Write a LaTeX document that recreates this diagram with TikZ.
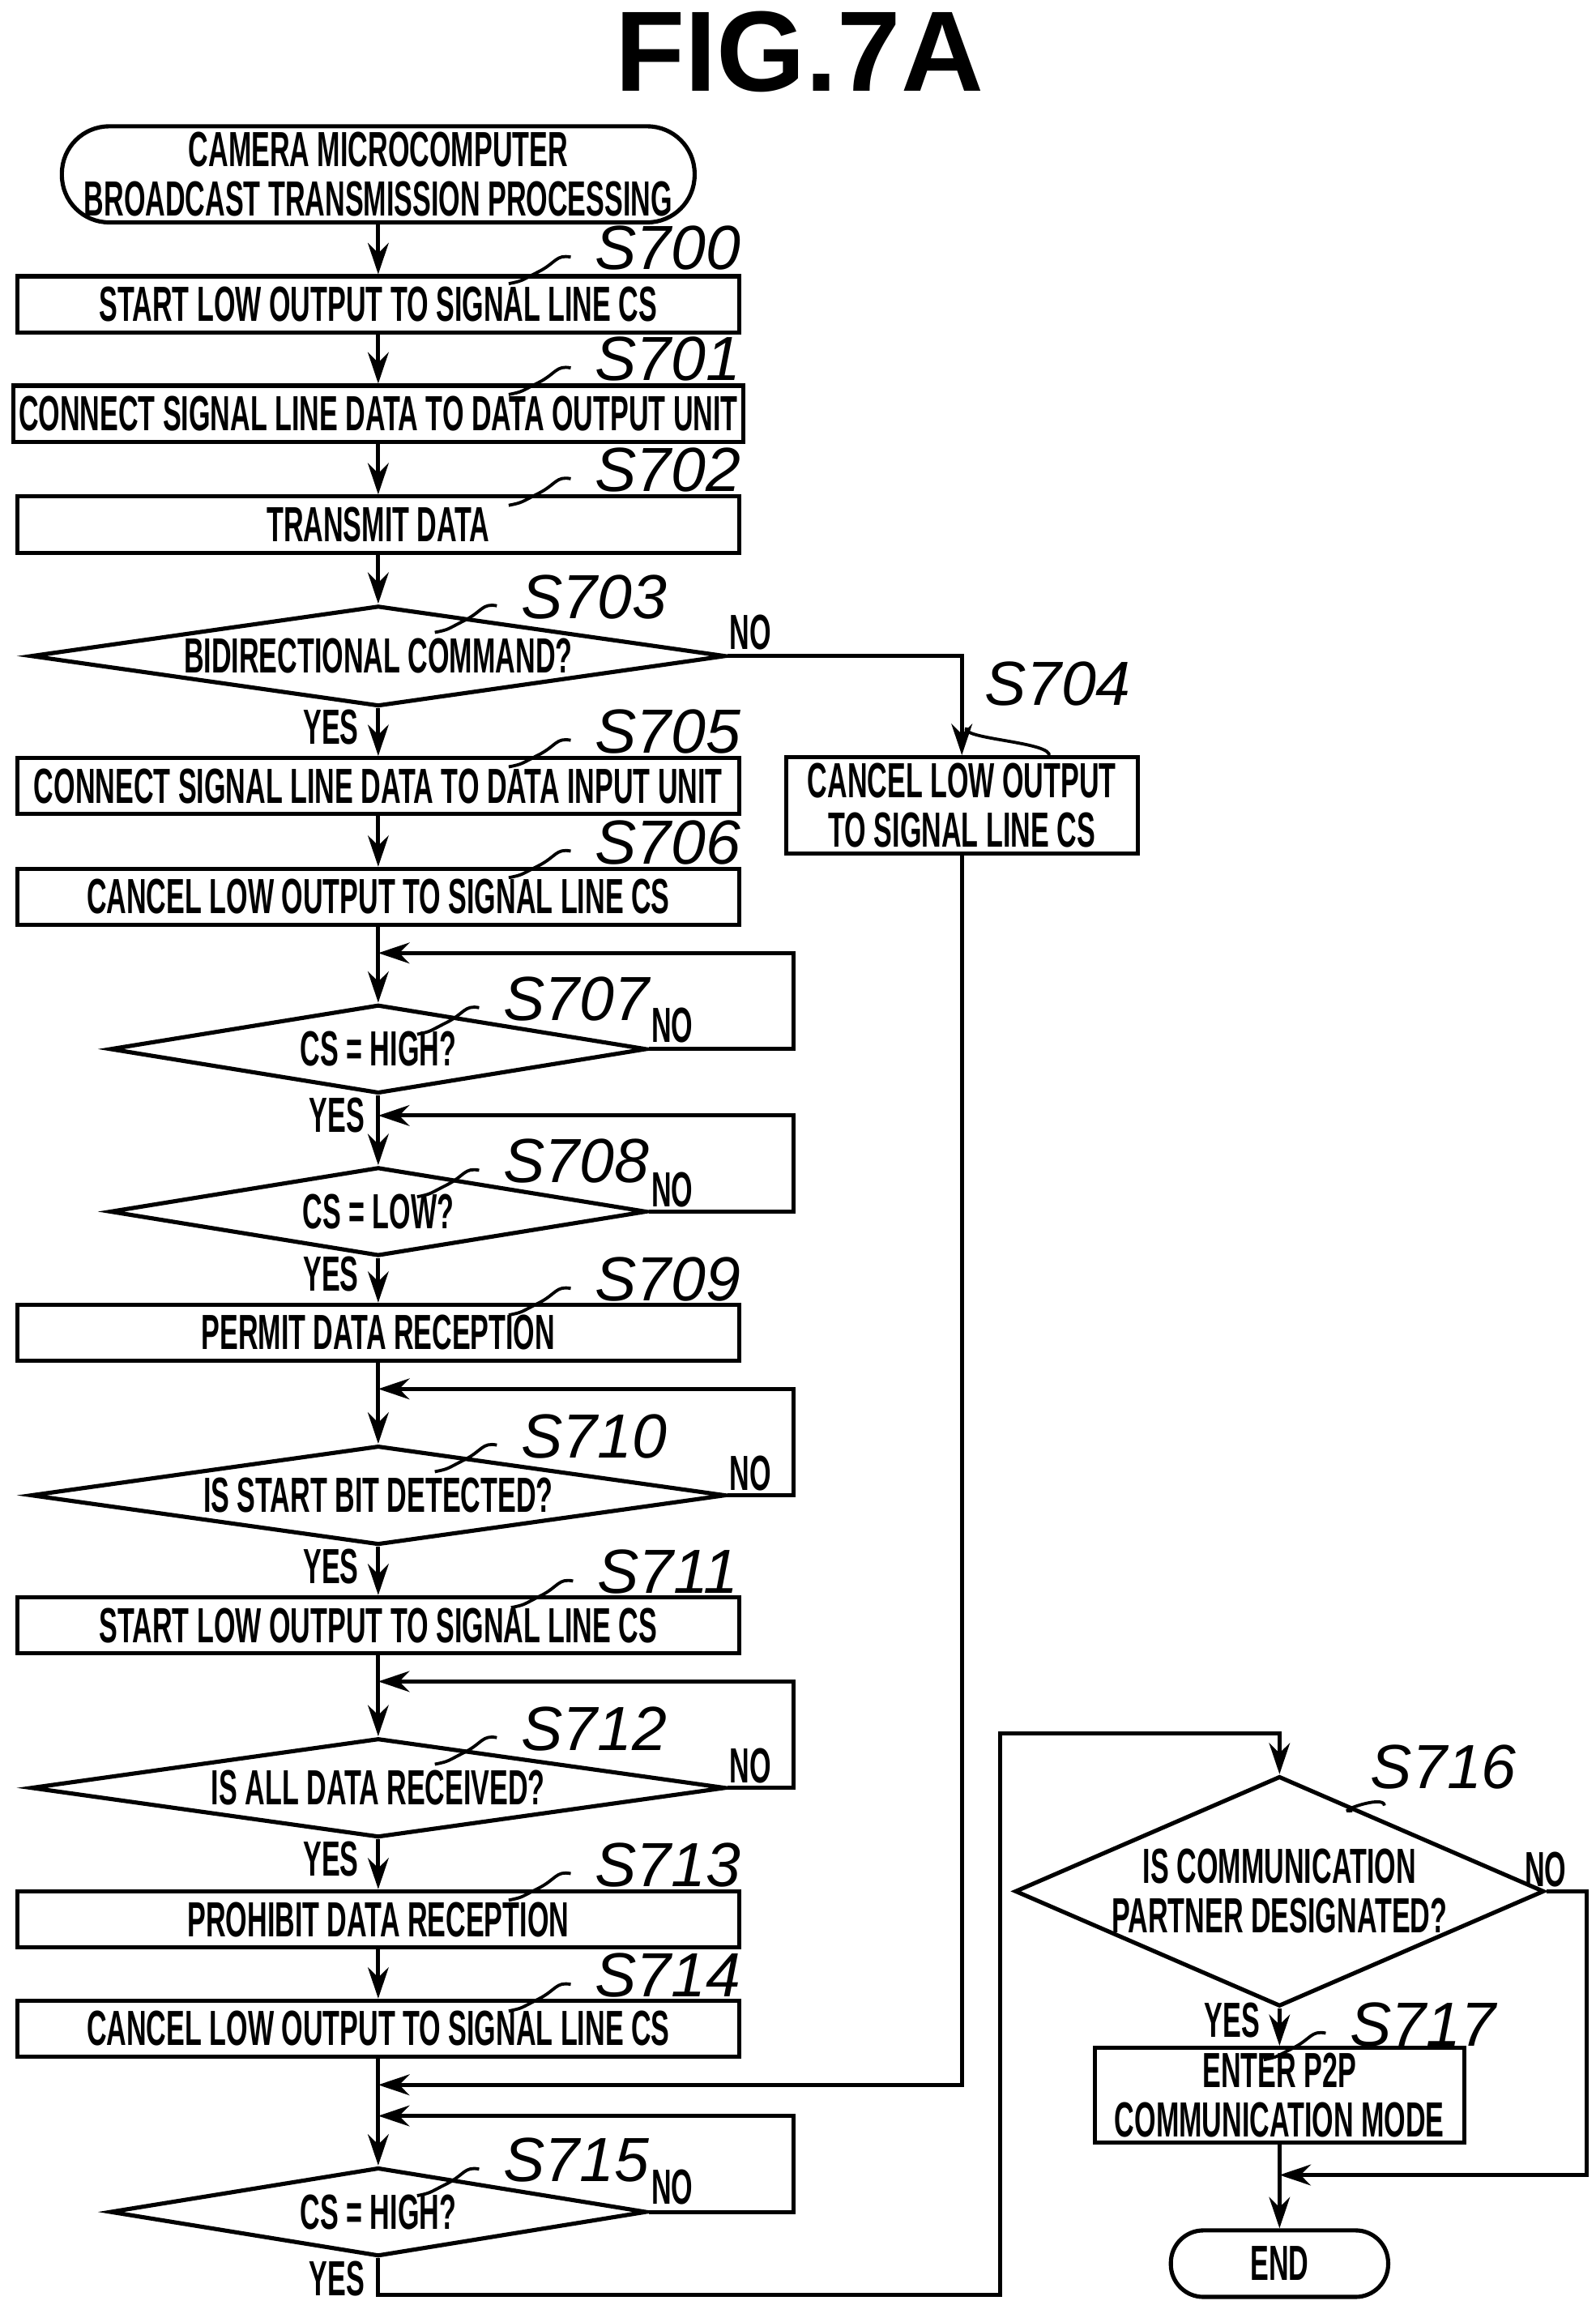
\documentclass[tikz,border=0pt]{standalone}
\usepackage{fontspec}
\newfontfamily\condfont{Liberation Sans}[FakeStretch=0.56]
\newfontfamily\stepfont{Liberation Sans}
\newfontfamily\titlefont{Liberation Sans}
\usetikzlibrary{shapes.geometric,arrows.meta}
\tikzset{
  box/.style={draw, line width=0.8pt, minimum width=4.88cm, minimum height=0.38cm, inner sep=1pt, align=center, font=\condfont\bfseries\fontsize{9.5}{9.5}\selectfont},
  term/.style={box, rounded corners=0.32cm},
  dec/.style={draw, diamond, line width=0.8pt, inner sep=0pt, aspect=7, font=\condfont\bfseries\fontsize{9.5}{9.5}\selectfont, align=center},
  arr/.style={line width=0.8pt, -{Stealth[length=6pt,width=4pt]}},
  yn/.style={font=\condfont\bfseries\fontsize{9.5}{9.5}\selectfont},
  steplbl/.style={font=\stepfont\itshape\fontsize{12}{12}\selectfont},
}
% step label with wavy leader
\newcommand{\steplab}[3]{%
  \node[steplbl] (l#1) at (#2,#3) {S#1};
  \draw[line width=0.6pt] (l#1.west) ++(-4,6) .. controls +(-10,-2) and +(12,-6) .. ++(-22,10) .. controls +(-12,6) and +(10,-2) .. ++(-20,8);
}
\begin{document}
\begin{tikzpicture}[x=0.01cm,y=-0.01cm]
\useasboundingbox (0,0) rectangle (1080,1560);
\node[font=\titlefont\bfseries\fontsize{22}{22}\selectfont] (title) at (541,35) {FIG.7A};

\node[term, minimum width=4.28cm, minimum height=0.65cm] (start) at (256,118) {CAMERA MICROCOMPUTER\\BROADCAST TRANSMISSION PROCESSING};
\node[box] (s700) at (256,206) {START LOW OUTPUT TO SIGNAL LINE CS};
\node[box] (s701) at (256,280) {CONNECT SIGNAL LINE DATA TO DATA OUTPUT UNIT};
\node[box] (s702) at (256,355) {TRANSMIT DATA};
\node[dec, minimum width=4.7cm, minimum height=0.68cm] (s703) at (256,444) {BIDIRECTIONAL COMMAND?};
\node[box] (s705) at (256,532) {CONNECT SIGNAL LINE DATA TO DATA INPUT UNIT};
\node[box] (s706) at (256,607) {CANCEL LOW OUTPUT TO SIGNAL LINE CS};
\node[dec, minimum width=3.63cm, minimum height=0.6cm] (s707) at (256,710) {CS = HIGH?};
\node[dec, minimum width=3.63cm, minimum height=0.6cm] (s708) at (256,820) {CS = LOW?};
\node[box] (s709) at (256,902) {PERMIT DATA RECEPTION};
\node[dec, minimum width=4.7cm, minimum height=0.67cm] (s710) at (256,1012) {IS START BIT DETECTED?};
\node[box] (s711) at (256,1100) {START LOW OUTPUT TO SIGNAL LINE CS};
\node[dec, minimum width=4.7cm, minimum height=0.67cm] (s712) at (256,1210) {IS ALL DATA RECEIVED?};
\node[box] (s713) at (256,1299) {PROHIBIT DATA RECEPTION};
\node[box] (s714) at (256,1373) {CANCEL LOW OUTPUT TO SIGNAL LINE CS};
\node[dec, minimum width=3.63cm, minimum height=0.6cm] (s715) at (256,1497) {CS = HIGH?};
\node[box, minimum width=2.38cm, minimum height=0.65cm] (s704) at (651,545) {CANCEL LOW OUTPUT\\TO SIGNAL LINE CS};
\node[dec, minimum width=3.27cm, minimum height=1.44cm, aspect=2.3] (s716) at (866,1280) {IS COMMUNICATION\\PARTNER DESIGNATED?};
\node[box, minimum width=2.5cm, minimum height=0.63cm] (s717) at (866,1418) {ENTER P2P\\COMMUNICATION MODE};
\node[term, minimum width=1.47cm, minimum height=0.45cm, rounded corners=0.22cm] (end) at (866,1532) {END};

% main flow
\draw[arr] (start) -- (s700);
\draw[arr] (s700) -- (s701);
\draw[arr] (s701) -- (s702);
\draw[arr] (s702) -- (s703);
\draw[arr] (s703) -- (s705);
\draw[arr] (s705) -- (s706);
\draw[arr] (s706) -- (s707);
\draw[arr] (s707) -- (s708);
\draw[arr] (s708) -- (s709);
\draw[arr] (s709) -- (s710);
\draw[arr] (s710) -- (s711);
\draw[arr] (s711) -- (s712);
\draw[arr] (s712) -- (s713);
\draw[arr] (s713) -- (s714);
\draw[arr] (s714) -- (s715);
\draw[arr] (s716) -- (s717);
\draw[arr] (s717) -- (end);

% loops back
\coordinate (m707) at (256,645);
\coordinate (m708) at (256,755);
\coordinate (m710) at (256,940);
\coordinate (m712) at (256,1138);
\coordinate (m715) at (256,1432);
\coordinate (m714) at (256,1411);
\draw[arr] (s707.east) -- (537,710) |- (m707);
\draw[arr] (s708.east) -- (537,820) |- (m708);
\draw[arr] (s710.east) -- (537,1012) |- (m710);
\draw[arr] (s712.east) -- (537,1210) |- (m712);
\draw[arr] (s715.east) -- (537,1497) |- (m715);

% branches
\draw[arr] (s703.east) -| (s704.north);
\draw[arr] (s704.south) |- (m714);
\draw[arr] (s715.south) -- (256,1553) -| (677,1173) -| (s716.north);
\coordinate (m717) at (866,1472);
\draw[arr] (s716.east) -| (1074,1472) -- (m717);

% yes / no
\node[yn] at (508,428) {NO};
\node[yn] at (224,492) {YES};
\node[yn] at (455,694) {NO};
\node[yn] at (228,755) {YES};
\node[yn] at (455,805) {NO};
\node[yn] at (224,862) {YES};
\node[yn] at (508,997) {NO};
\node[yn] at (224,1060) {YES};
\node[yn] at (508,1195) {NO};
\node[yn] at (224,1258) {YES};
\node[yn] at (455,1480) {NO};
\node[yn] at (228,1542) {YES};
\node[yn] at (1046,1265) {NO};
\node[yn] at (834,1367) {YES};

% step labels
\steplab{700}{452}{168}
\steplab{701}{452}{243}
\steplab{702}{452}{318}
\steplab{703}{402}{404}
\steplab{705}{452}{495}
\steplab{706}{452}{570}
\steplab{707}{390}{676}
\steplab{708}{390}{786}
\steplab{709}{452}{866}
\steplab{710}{402}{972}
\steplab{711}{452}{1064}
\steplab{712}{402}{1170}
\steplab{713}{452}{1262}
\steplab{714}{452}{1337}
\steplab{715}{390}{1462}
\steplab{717}{963}{1370}
\node[steplbl] (l716) at (977,1196) {S716};
\draw[line width=0.6pt] (l716.south west) ++(0,2) .. controls +(-14,2) and +(0,-8) .. (937,1222);
\node[steplbl] (l704) at (716,463) {S704};
\draw[line width=0.6pt] (l704.south west) ++(0,2) .. controls +(-6,8) and +(4,-10) .. (710,512);
\end{tikzpicture}
\end{document}
